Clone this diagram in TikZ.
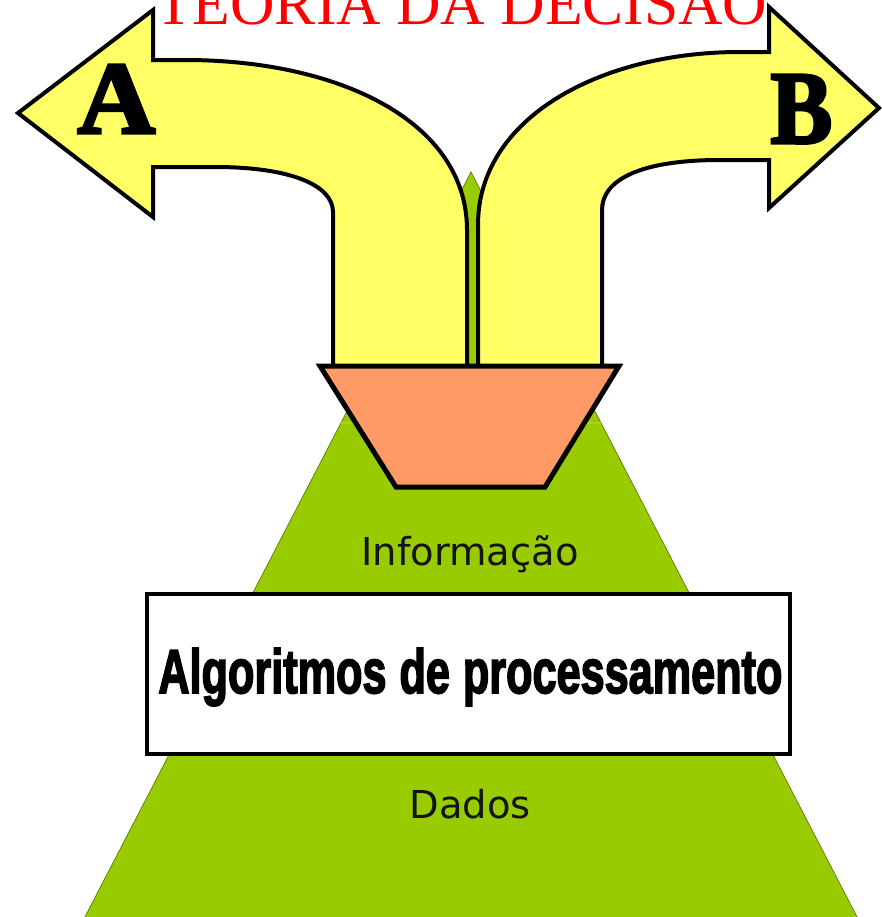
\documentclass[tikz,border=0pt]{standalone}
\usepackage{fontspec}
\usepackage{graphicx}
\setmainfont{Liberation Serif}
\newfontfamily\labfont{DejaVu Sans}
\newfontfamily\impactfont[FakeBold=3]{Liberation Sans Bold}
\newfontfamily\coopfont[FakeBold=3]{Liberation Serif Bold}
\definecolor{arrowyellow}{HTML}{FFFF66}
\definecolor{funnelorange}{HTML}{FF9966}
\definecolor{pyrgreen}{HTML}{99CC00}
\definecolor{pyredge}{HTML}{5C7A00}
\definecolor{pyrline}{HTML}{A8D22A}
\definecolor{titlered}{HTML}{FF0000}
\tikzset{
  bigarrow/.style={fill=arrowyellow, draw=black, line width=0.8mm, line join=miter, miter limit=20},
  funnel/.style={fill=funnelorange, draw=black, line width=1mm, line join=miter},
  pyramid/.style={fill=pyrgreen, draw=pyredge, line width=0.4pt},
  layerline/.style={draw=pyrline, line width=0.5mm},
  algobox/.style={fill=white, draw=black, line width=0.7mm},
  levellabel/.style={anchor=base, inner sep=0pt, text=black!92, font=\labfont\fontsize{21.9}{24}\selectfont},
  letterlabel/.style={anchor=base west, inner sep=0pt, text=black},
}
\begin{document}
\begin{tikzpicture}[x=0.2mm,y=-0.2mm]
\useasboundingbox (0,0) rectangle (882,917);
\clip (0,0) rectangle (882,917);
\fill[white] (0,0) rectangle (882,917);
% pyramid
\draw[pyramid] (471,172) -- (869,940) -- (73,940) -- cycle;
\draw[layerline] (341,423) -- (601,423);
% left arrow (A)
\draw[bigarrow] (18,113) -- (153,10) -- (153,60) -- (185,60)
  .. controls (340,60) and (467,122) .. (467,230) -- (467,372) -- (333,372) -- (333,212)
  .. controls (333,185) and (290,167) .. (215,167) -- (153,167) -- (153,217) -- cycle;
% right arrow (B)
\draw[bigarrow] (879,108) -- (769,7) -- (769,52) -- (740,52)
  .. controls (600,52) and (478,118) .. (478,225) -- (478,372) -- (602,372) -- (602,210)
  .. controls (602,180) and (640,160) .. (720,160) -- (769,160) -- (769,208) -- cycle;
% funnel
\draw[funnel] (320,366) -- (619,366) -- (545,487) -- (396,487) -- cycle;
% box
\draw[algobox] (147,594) rectangle (790,754);
% texts
\node[anchor=base west, inner sep=0pt, text=titlered] (title) at (155,24)
  {\resizebox{122.4mm}{!}{TEORIA DA DECISÃO}};
\node[letterlabel] (la) at (77,133) {\resizebox{15.6mm}{13.6mm}{\coopfont A}};
\node[letterlabel] (lb) at (770,143) {\resizebox{12.4mm}{13.6mm}{\coopfont B}};
\node[levellabel] (info) at (470,565) {Informação};
\node[levellabel] (dados) at (470,818) {Dados};
\node[anchor=base west, inner sep=0pt] (algo) at (158,693)
  {\resizebox{124.8mm}{9mm}{\impactfont Algoritmos\hspace{0.3em}de\hspace{0.3em}processamento}};
\end{tikzpicture}
\end{document}
